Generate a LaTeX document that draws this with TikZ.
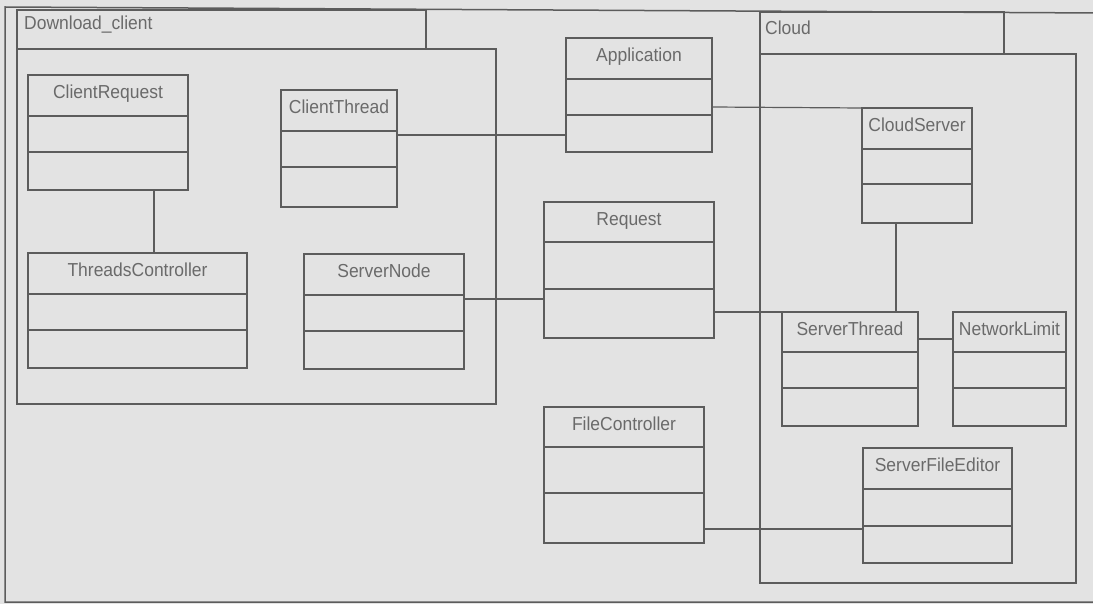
\documentclass[tikz,border=0pt]{standalone}
\usepackage{fontspec}
\setmainfont{Liberation Sans}[FakeStretch=0.93]
\usetikzlibrary{fit,calc}
\definecolor{bg}{HTML}{E3E3E3}
\definecolor{ln}{HTML}{5C5C5C}
\definecolor{tx}{HTML}{6A6A6A}
\tikzset{
  clsbox/.style={draw=ln, line width=1.3pt, inner sep=0pt, outer sep=0pt, rectangle},
  clsline/.style={draw=ln, line width=1.3pt},
  clstext/.style={text=tx, anchor=base, inner sep=0pt, font=\fontsize{18.8}{21}\selectfont},
  pkgbox/.style={draw=ln, line width=1.3pt, inner sep=0pt, outer sep=0pt, rectangle},
  pkgtext/.style={text=tx, anchor=base west, inner sep=0pt, font=\fontsize{18.8}{21}\selectfont},
  assoc/.style={draw=ln, line width=1.2pt},
  frame/.style={draw=ln, line width=1.5pt}
}
\newcommand{\umlcls}[8]{%
  \node[clsbox, fit={(#2,#3) (#4,#5)}] (#1) {};
  \draw[clsline] (#1.west|-0,#6) -- (#1.east|-0,#6);
  \draw[clsline] (#1.west|-0,#7) -- (#1.east|-0,#7);
  \node[clstext] (#1-name) at ($(#1.north)+(0,23.5)$) {#8};
}
\begin{document}
\begin{tikzpicture}[x=1pt,y=-1pt]
\useasboundingbox (0,0) rectangle (1093,604);
\fill[bg] (0,0) rectangle (1093,604);
% outer frame
\draw[frame] (1100,13) -- (5,7) -- (5,602) -- (1100,602);
% packages
\node[pkgbox, fit={(17,10) (426,49)}] (dltab) {};
\node[pkgbox, fit={(17,49) (496,404)}] (dlbody) {};
\node[pkgtext] (dllabel) at (24,30) {Download\_client};
\node[pkgbox, fit={(760,12) (1004,54)}] (cltab) {};
\node[pkgbox, fit={(760,54) (1076,583)}] (clbody) {};
\node[pkgtext] (cllabel) at (765,35) {Cloud};
% classes
\umlcls{ClientRequest}{28}{75}{188}{190}{116}{152}{ClientRequest}
\umlcls{ClientThread}{281}{90}{397}{207}{131}{167}{ClientThread}
\umlcls{ThreadsController}{28}{253}{247}{368}{294}{330}{ThreadsController}
\umlcls{ServerNode}{304}{254}{464}{369}{295}{331}{ServerNode}
\umlcls{Application}{566}{38}{712}{152}{79}{115}{Application}
\umlcls{Request}{544}{202}{714}{338}{242}{289}{Request}
\umlcls{CloudServer}{862}{108}{972}{223}{149}{184}{CloudServer}
\umlcls{ServerThread}{782}{312}{918}{426}{352}{388}{ServerThread}
\umlcls{NetworkLimit}{953}{312}{1066}{426}{352}{388}{NetworkLimit}
\umlcls{FileController}{544}{407}{704}{543}{447}{493}{FileController}
\umlcls{ServerFileEditor}{863}{448}{1012}{563}{489}{526}{ServerFileEditor}
% associations
\draw[assoc] (ClientRequest.south-|154,0) -- (ThreadsController.north-|154,0);
\draw[assoc] (ClientThread.east|-0,135) -- (Application.west|-0,135);
\draw[assoc] (Application.east|-0,107) -- (CloudServer.north west);
\draw[assoc] (ServerNode.east|-0,299) -- (Request.west|-0,299);
\draw[assoc] (Request.east|-0,312) -- (ServerThread.north west);
\draw[assoc] (CloudServer.south-|896,0) -- (ServerThread.north-|896,0);
\draw[assoc] (ServerThread.east|-0,339) -- (NetworkLimit.west|-0,339);
\draw[assoc] (FileController.east|-0,529) -- (ServerFileEditor.west|-0,529);
\end{tikzpicture}
\end{document}
